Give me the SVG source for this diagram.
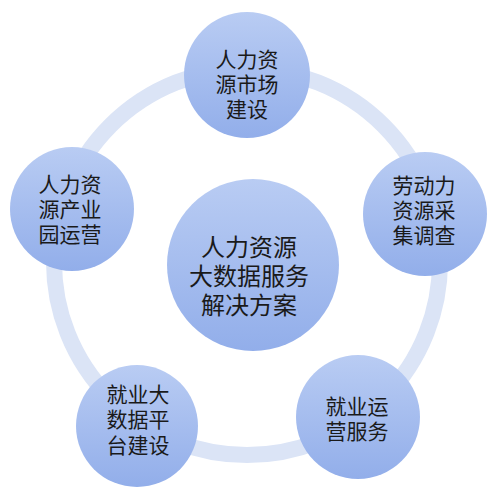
<svg xmlns="http://www.w3.org/2000/svg" width="500" height="492" viewBox="0 0 500 492">
<defs>
<linearGradient id="g" x1="0" y1="0" x2="0" y2="1">
<stop offset="0" stop-color="#b9ccf3"/>
<stop offset="1" stop-color="#92aeea"/>
</linearGradient>
<style>
.c{fill:url(#g);}
.t{font-family:"Noto Sans CJK SC","Noto Sans",sans-serif;font-size:21px;fill:#1a1a1a;text-anchor:middle;dominant-baseline:central;}
.tc{font-size:24px;}
</style>
</defs>
<rect width="500" height="492" fill="#ffffff"/>
<g id="connectors">
<circle cx="247" cy="262" r="193" fill="none" stroke="#dbe4f6" stroke-width="16"/>
</g>
<g id="center">
<circle class="c" cx="253" cy="265" r="86"/>
<text class="t tc" x="249" y="245"><tspan x="249" y="245">人力资源</tspan><tspan x="249" y="274">大数据服务</tspan><tspan x="249" y="303">解决方案</tspan></text>
</g>
<g id="n1">
<circle class="c" cx="247" cy="75" r="63"/>
<text class="t" x="247" y="58"><tspan x="247" y="58">人力资</tspan><tspan x="247" y="83">源市场</tspan><tspan x="247" y="108">建设</tspan></text>
</g>
<g id="n2">
<circle class="c" cx="425" cy="214" r="62"/>
<text class="t" x="424" y="184"><tspan x="424" y="184">劳动力</tspan><tspan x="424" y="209">资源采</tspan><tspan x="424" y="234">集调查</tspan></text>
</g>
<g id="n3">
<circle class="c" cx="358" cy="417" r="62"/>
<text class="t" x="357" y="405"><tspan x="357" y="405">就业运</tspan><tspan x="357" y="430">营服务</tspan></text>
</g>
<g id="n4">
<circle class="c" cx="137" cy="426" r="61"/>
<text class="t" x="138" y="393"><tspan x="138" y="393">就业大</tspan><tspan x="138" y="418">数据平</tspan><tspan x="138" y="444">台建设</tspan></text>
</g>
<g id="n5">
<circle class="c" cx="72" cy="209" r="62"/>
<text class="t" x="70" y="183"><tspan x="70" y="183">人力资</tspan><tspan x="70" y="208">源产业</tspan><tspan x="70" y="233">园运营</tspan></text>
</g>
</svg>
